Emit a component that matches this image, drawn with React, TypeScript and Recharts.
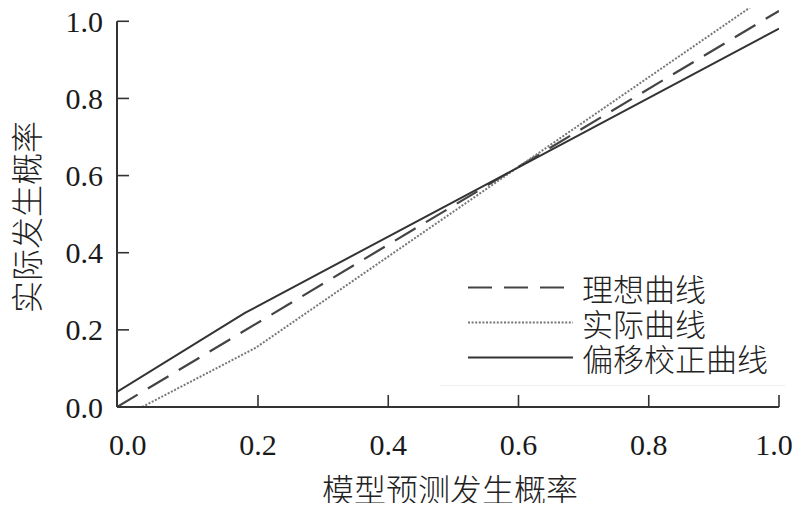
import React from 'react';
import { LineChart, Line, XAxis, YAxis, ReferenceLine, Legend } from 'recharts';

const X_MIN = -0.0165;
const Y_MAX = 1.05;

const xTicks = [0, 0.2, 0.4, 0.6, 0.8, 1.0];
const yTicks = [0, 0.2, 0.4, 0.6, 0.8, 1.0];

const seriesNames = ['理想曲线', '实际曲线', '偏移校正曲线'];

const idealX = [-0.0165, 1.0];
const idealY = [0, 1.027];

const actualX = [-0.0165, 0.022, 0.196, 0.96];
const actualY = [0, 0, 0.153, 1.041];

const correctedX = [-0.0165, 0.18, 1.0];
const correctedY = [0.039, 0.244, 0.981];

const xTitle = '模型预测发生概率';
const yTitle = '实际发生概率';

const toPoints = (xs: number[], ys: number[]) => xs.map((x, i) => ({ x, y: ys[i] }));

const idealData = toPoints(idealX, idealY);
const actualData = toPoints(actualX, actualY);
const correctedData = toPoints(correctedX, correctedY);

const styles = [
  { color: '#444444', dash: '24 12', width: 2.2 },
  { color: '#777777', dash: '2 1.6', width: 2 },
  { color: '#333333', dash: undefined as string | undefined, width: 2 },
];

const serif = '"Liberation Serif", "Times New Roman", serif';
const cjk = '"Noto Sans CJK SC", "Noto Sans", sans-serif';

const fmt = (v: number) => v.toFixed(1);

const XTick = (props: any) => {
  const { x, y, payload } = props;
  const last = payload.value === 1;
  return (
    <g>
      {payload.value !== 0 && (
        <line x1={x} x2={x} y1={y} y2={y - 12} stroke="#333" strokeWidth={1.6} />
      )}
      <text
        x={last ? x - 5 : x}
        y={y + 48}
        textAnchor="middle"
        fontFamily={serif}
        fontSize={30}
        fill="#1a1a1a"
      >
        {fmt(payload.value)}
      </text>
    </g>
  );
};

const YTick = (props: any) => {
  const { x, y, payload } = props;
  return (
    <g>
      {payload.value !== 0 && (
        <line x1={x} x2={x + 12} y1={y} y2={y} stroke="#333" strokeWidth={1.6} />
      )}
      <text x={x - 14} y={y} dy="0.35em" textAnchor="end" fontFamily={serif} fontSize={30} fill="#1a1a1a">
        {fmt(payload.value)}
      </text>
    </g>
  );
};

const XTitle = (props: any) => {
  const vb = props.viewBox || {};
  const cx = vb.x + vb.width / 2 + 2;
  const by = vb.y + 95;
  return (
    <text x={cx} y={by} textAnchor="middle" fontFamily={cjk} fontWeight={300} fontSize={32} fill="#222">
      {xTitle}
    </text>
  );
};

const YTitle = (props: any) => {
  const vb = props.viewBox || {};
  const cx = vb.x + 25;
  const cy = vb.y + 215;
  return (
    <text
      x={cx}
      y={cy}
      textAnchor="middle"
      dominantBaseline="central"
      transform={`rotate(-90, ${cx}, ${cy})`}
      fontFamily={cjk}
      fontWeight={300}
      fontSize={32}
      fill="#222"
    >
      {yTitle}
    </text>
  );
};

const LegendContent = () => (
  <div style={{ paddingLeft: 28, paddingTop: 2, paddingBottom: 10, borderBottom: '1px solid #eeeeee' }}>
    {seriesNames.map((name, i) => (
      <div key={name} style={{ display: 'flex', alignItems: 'center', height: 35 }}>
        <svg width={105} height={35} style={{ display: 'block' }}>
          <line
            x1={0}
            x2={105}
            y1={17.5}
            y2={17.5}
            stroke={styles[i].color}
            strokeWidth={styles[i].width}
            strokeDasharray={styles[i].dash}
          />
        </svg>
        <span
          style={{
            marginLeft: 9,
            fontFamily: cjk,
            fontWeight: 300,
            fontSize: 31,
            lineHeight: '35px',
            color: '#222',
            whiteSpace: 'nowrap',
          }}
        >
          {name}
        </span>
      </div>
    ))}
  </div>
);

export default function App() {
  return (
    <div
      style={{
        margin: '-8px -8px -8px -8px',
        width: 801,
        height: 511,
        background: '#fff',
        overflow: 'hidden',
      }}
    >
      <LineChart width={801} height={511} margin={{ top: 2, right: 22, bottom: 0, left: 0 }} style={{ overflow: 'visible' }}>
        <XAxis
          type="number"
          dataKey="x"
          domain={[X_MIN, 1]}
          allowDataOverflow
          ticks={xTicks}
          interval={0}
          height={104}
          tickSize={0}
          tickMargin={0}
          tickLine={false}
          axisLine={{ stroke: '#333', strokeWidth: 2 }}
          tick={XTick}
          label={{ content: XTitle }}
        />
        <YAxis
          type="number"
          dataKey="y"
          domain={[0, Y_MAX]}
          allowDataOverflow
          ticks={yTicks}
          interval={0}
          width={117}
          tickSize={0}
          tickMargin={0}
          tickLine={false}
          axisLine={false}
          tick={YTick}
          label={{ content: YTitle }}
        />
        <ReferenceLine
          segment={[
            { x: X_MIN, y: 0 },
            { x: X_MIN, y: 1 },
          ]}
          stroke="#333"
          strokeWidth={2}
        />
        <Line
          data={idealData}
          dataKey="y"
          name={seriesNames[0]}
          type="linear"
          stroke={styles[0].color}
          strokeWidth={styles[0].width}
          strokeDasharray={styles[0].dash}
          dot={false}
          isAnimationActive={false}
        />
        <Line
          data={actualData}
          dataKey="y"
          name={seriesNames[1]}
          type="linear"
          stroke={styles[1].color}
          strokeWidth={styles[1].width}
          strokeDasharray={styles[1].dash}
          dot={false}
          isAnimationActive={false}
        />
        <Line
          data={correctedData}
          dataKey="y"
          name={seriesNames[2]}
          type="linear"
          stroke={styles[2].color}
          strokeWidth={styles[2].width}
          dot={false}
          isAnimationActive={false}
        />
        <Legend
          layout="horizontal"
          verticalAlign="middle"
          align="center"
          content={LegendContent}
          wrapperStyle={{ left: 440, top: 268, width: 345, height: 'auto' }}
        />
      </LineChart>
    </div>
  );
}
